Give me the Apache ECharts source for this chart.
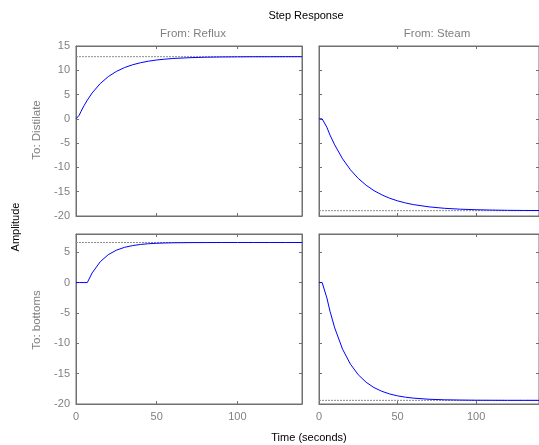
<!DOCTYPE html>
<html>
<head>
<meta charset="utf-8">
<script src="https://cdn.jsdelivr.net/npm/echarts@6/dist/echarts.min.js"></script>
<style>
html,body{margin:0;padding:0;background:#fff;}
#chart{width:539px;height:445px;}
</style>
</head>
<body>
<div id="chart"></div>
<script>
// Step response samples, time in seconds
const times = [0, 1, 2, 3, 5, 7, 10, 15, 20, 25, 30, 35, 40, 45, 50, 55, 60, 70, 80, 90, 100, 110, 120, 130, 140];
// Reflux -> Distillate
const refluxDistillate = [0, 0, 0.75, 1.46, 2.73, 3.85, 5.33, 7.26, 8.70, 9.76, 10.55, 11.13, 11.56, 11.88, 12.12, 12.29, 12.43, 12.59, 12.69, 12.74, 12.77, 12.79, 12.79, 12.80, 12.80];
// Steam -> Distillate
const steamDistillate = [0, 0, 0, 0, -1.72, -3.34, -5.36, -8.23, -10.49, -12.27, -13.67, -14.78, -15.65, -16.34, -16.88, -17.31, -17.65, -18.12, -18.42, -18.60, -18.71, -18.78, -18.83, -18.86, -18.87];
// Reflux -> bottoms
const refluxBottoms = [0, 0, 0, 0, 0, 0, 1.59, 3.43, 4.60, 5.33, 5.80, 6.09, 6.28, 6.40, 6.47, 6.52, 6.55, 6.58, 6.59, 6.60, 6.60, 6.60, 6.60, 6.60, 6.60];
// Steam -> bottoms
const steamBottoms = [0, 0, 0, 0, -2.52, -4.72, -7.47, -10.97, -13.44, -15.19, -16.42, -17.30, -17.91, -18.35, -18.66, -18.88, -19.03, -19.22, -19.31, -19.35, -19.38, -19.39, -19.40, -19.40, -19.40];
// Final values
const steadyState = [12.8, -18.9, 6.6, -19.4];

const inputNames = ['From: Reflux', 'From: Steam'];
const outputNames = ['To: Distilate', 'To: bottoms'];
const xTicks = [0, 50, 100];
const yRangeTop = [-20, 15];
const yRangeBottom = [-20, 8];

const responses = [refluxDistillate, steamDistillate, refluxBottoms, steamBottoms];

const chart = echarts.init(document.getElementById('chart'));
const AX = '#707070';
const LBL = '#808080';
const FONT = 'Liberation Sans, Arial, sans-serif';

const gridPos = [
  {left: 76, top: 46},
  {left: 319, top: 46},
  {left: 76, top: 234},
  {left: 319, top: 234}
];

const grids = [], xAxes = [], yAxes = [], series = [];
gridPos.forEach((g, i) => {
  grids.push({left: g.left, top: g.top, width: 226, height: 170, show: true,
    borderColor: AX, borderWidth: 1, backgroundColor: '#fff'});
  const row = Math.floor(i / 2), col = i % 2;
  const yr = row === 0 ? yRangeTop : yRangeBottom;
  // bottom and top x axes
  [['bottom', row === 1], ['top', false]].forEach(([pos, labels]) => {
    xAxes.push({type: 'value', gridIndex: i, position: pos, min: 0, max: 140, interval: 50,
      axisLine: {show: true, onZero: false, lineStyle: {color: AX, width: 1}},
      axisTick: {show: true, inside: true, length: 3, lineStyle: {color: AX}},
      axisLabel: {show: labels, color: LBL, fontFamily: FONT, fontSize: 11, margin: 7,
        showMaxLabel: false, formatter: v => xTicks.includes(v) ? String(v) : ''},
      splitLine: {show: false}});
  });
  [['left', col === 0], ['right', false]].forEach(([pos, labels]) => {
    yAxes.push({type: 'value', gridIndex: i, position: pos, min: yr[0], max: yr[1], interval: 5,
      axisLine: {show: true, onZero: false, lineStyle: {color: AX, width: 1}},
      axisTick: {show: true, inside: true, length: 3, lineStyle: {color: AX}},
      axisLabel: {show: labels, color: LBL, fontFamily: FONT, fontSize: 11, margin: 6,
        formatter: v => (v % 5 === 0) ? String(v) : ''},
      splitLine: {show: false}});
  });
  series.push({type: 'line', xAxisIndex: i * 2, yAxisIndex: i * 2, symbol: 'none',
    data: [[0, steadyState[i]], [140, steadyState[i]]],
    lineStyle: {color: '#8c8c8c', width: 1, type: [2, 1]}, silent: true, z: 2});
  series.push({type: 'line', xAxisIndex: i * 2, yAxisIndex: i * 2, symbol: 'none',
    data: times.map((t, k) => [t, responses[i][k]]),
    lineStyle: {color: '#0000ff', width: 1}, silent: true, z: 3});
});

const titles = [
  {text: 'Step Response', left: 301, top: 5, textAlign: 'center',
    textStyle: {color: '#000', fontSize: 11, fontWeight: 'normal', fontFamily: FONT}},
  {text: inputNames[0], left: 188, top: 23, textAlign: 'center',
    textStyle: {color: LBL, fontSize: 11.5, fontWeight: 'normal', fontFamily: FONT}},
  {text: inputNames[1], left: 432, top: 23, textAlign: 'center',
    textStyle: {color: LBL, fontSize: 11.5, fontWeight: 'normal', fontFamily: FONT}},
  {text: 'Time (seconds)', left: 304, top: 427, textAlign: 'center',
    textStyle: {color: '#000', fontSize: 11, fontWeight: 'normal', fontFamily: FONT}}
];

chart.setOption({
  animation: false,
  title: titles,
  grid: grids,
  xAxis: xAxes,
  yAxis: yAxes,
  series: series,
  graphic: [
    {type: 'text', x: 37, y: 130, rotation: Math.PI / 2,
      style: {text: outputNames[0], fill: LBL, font: '11.5px ' + FONT, align: 'center', verticalAlign: 'middle'}},
    {type: 'text', x: 37, y: 320, rotation: Math.PI / 2,
      style: {text: outputNames[1], fill: LBL, font: '11.5px ' + FONT, align: 'center', verticalAlign: 'middle'}},
    {type: 'text', x: 16, y: 227, rotation: Math.PI / 2,
      style: {text: 'Amplitude', fill: '#000', font: '11px ' + FONT, align: 'center', verticalAlign: 'middle'}}
  ]
});
</script>
</body>
</html>
